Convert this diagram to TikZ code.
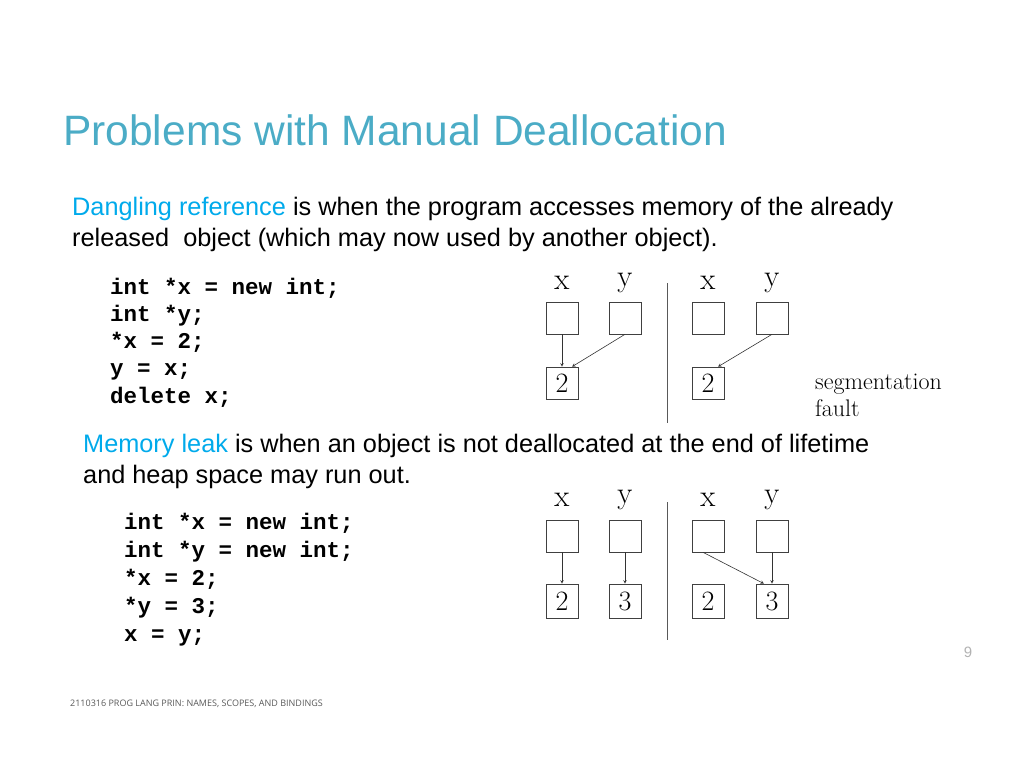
\documentclass[tikz,border=0pt]{standalone}
\usepackage{fontspec}
\setsansfont{Liberation Sans}
\setmonofont{Liberation Mono}
\newfontfamily\footfont{Open Sans}
\definecolor{titlec}{RGB}{75,172,198}
\definecolor{hl}{RGB}{0,170,235}
\begin{document}
\begin{tikzpicture}[x=1pt,y=-1pt,
  txt/.style={anchor=base west,inner sep=0pt,font=\sffamily\fontsize{25.3}{27}\selectfont},
  code/.style={anchor=base west,inner sep=0pt,align=left,font=\ttfamily\bfseries\fontsize{22.5}{27.2}\selectfont},
  cell/.style={draw=black!75,semithick,minimum width=32pt,minimum height=32pt,inner sep=0pt,font=\fontsize{28}{28}\selectfont},
  lab/.style={inner sep=0pt,font=\fontsize{31}{31}\selectfont},
  ptr/.style={->,>=stealth,semithick,black!80}]
\useasboundingbox (0,0) rectangle (1024,768);
\node[anchor=base west,inner sep=0pt,text=titlec,font=\sffamily\fontsize{42.5}{42.5}\selectfont] (title) at (63,145) {Problems with Manual Deallocation};
\node[txt] (d1) at (72,215) {\textcolor{hl}{Dangling reference} is when the program accesses memory of the already};
\node[txt] (d2) at (72,246) {released\ \ object (which may now used by another object).};
\node[code] (c1) at (110,403) {int *x = new int;\\int *y;\\*x = 2;\\y = x;\\delete x;};
\node[txt] (m1) at (83,452) {\textcolor{hl}{Memory leak} is when an object is not deallocated at the end of lifetime};
\node[txt] (m2) at (83,483) {and heap space may run out.};
\node[code,font=\ttfamily\bfseries\fontsize{22.5}{28}\selectfont] (c2) at (124,641) {int *x = new int;\\int *y = new int;\\*x = 2;\\*y = 3;\\x = y;};
% top diagram
\node[lab] (ax) at (562,283) {x}; \node[lab] (ay) at (625,283) {y};
\node[lab] (bx) at (708,283) {x}; \node[lab] (by) at (772,283) {y};
\node[cell] (px1) at (562,318) {}; \node[cell] (py1) at (625,318) {};
\node[cell] (px2) at (708,318) {}; \node[cell] (py2) at (772,318) {};
\node[cell] (v1) at (562,383) {2}; \node[cell] (v2) at (708,383) {2};
\draw[ptr] (px1.south) -- (v1.north);
\draw[ptr] (py1.south) -- ([xshift=10pt]v1.north);
\draw[ptr] (py2.south) -- ([xshift=10pt]v2.north);
\coordinate (t1) at (667,283); \coordinate (t2) at (667,423);
\draw[gray!70!black,semithick] (t1) -- (t2);
\node[anchor=base west,inner sep=0pt,align=left,font=\fontsize{24}{27}\selectfont] (seg) at (815,416) {segmentation\\fault};
% bottom diagram
\node[lab] (ex) at (562,500) {x}; \node[lab] (ey) at (625,500) {y};
\node[lab] (fx) at (708,500) {x}; \node[lab] (fy) at (772,500) {y};
\node[cell] (qx1) at (562,536) {}; \node[cell] (qy1) at (625,536) {};
\node[cell] (qx2) at (708,536) {}; \node[cell] (qy2) at (772,536) {};
\node[cell,minimum height=34pt] (w1) at (562,601) {2}; \node[cell,minimum height=34pt] (w2) at (625,601) {3};
\node[cell,minimum height=34pt] (w3) at (708,601) {2}; \node[cell,minimum height=34pt] (w4) at (772,601) {3};
\draw[ptr] (qx1.south) -- (w1.north);
\draw[ptr] (qy1.south) -- (w2.north);
\draw[ptr] ([xshift=-5pt]qx2.south) -- ([xshift=-8pt]w4.north);
\draw[ptr] (qy2.south) -- (w4.north);
\coordinate (s1) at (667,502); \coordinate (s2) at (667,640);
\draw[gray!70!black,semithick] (s1) -- (s2);
\node[anchor=base,inner sep=0pt,text=gray!60,font=\sffamily\fontsize{15}{15}\selectfont] (pn) at (968,657) {9};
\node[anchor=base west,inner sep=0pt,text=gray!70!black,font=\footfont\fontsize{9}{9}\selectfont] (ft) at (70,706) {2110316 PROG LANG PRIN: NAMES, SCOPES, AND BINDINGS};
\end{tikzpicture}
\end{document}
